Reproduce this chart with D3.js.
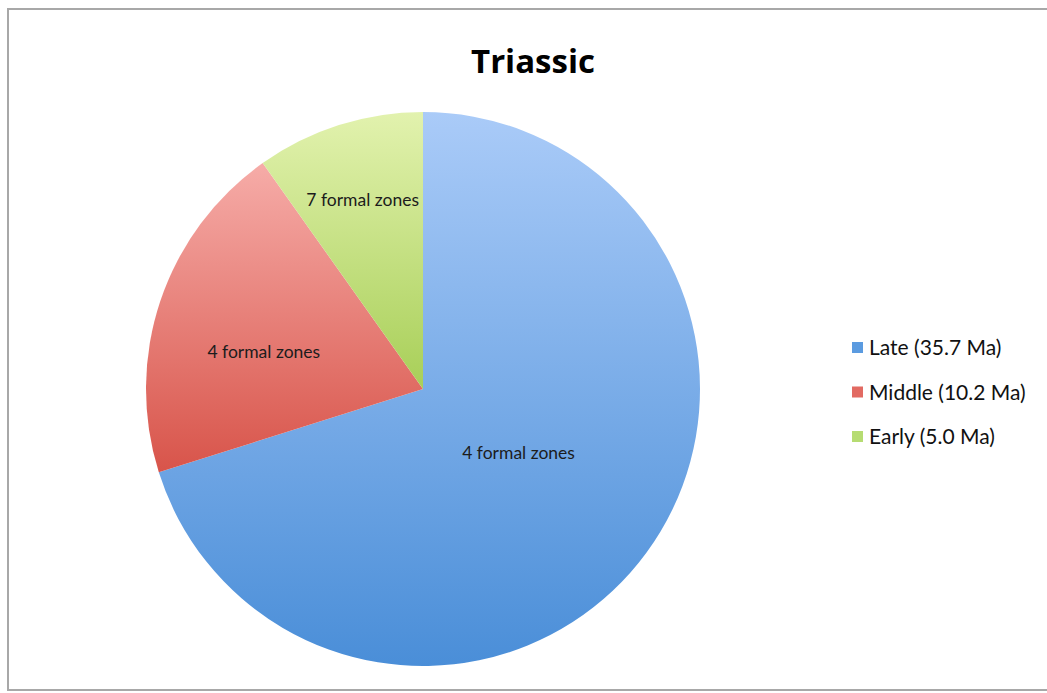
<!DOCTYPE html>
<html>
<head>
<meta charset="utf-8">
<script src="https://cdn.jsdelivr.net/npm/d3@7"></script>
<style>
  html, body { margin: 0; padding: 0; background: #fff; }
  svg { display: block; }
</style>
</head>
<body>
<script>
// Triassic epochs: duration in Ma and the number of formal zones in each
const categories = ["Late", "Middle", "Early"];
const durations = [35.7, 10.2, 5.0];
const legendLabels = ["Late (35.7 Ma)", "Middle (10.2 Ma)", "Early (5.0 Ma)"];
const sliceLabels = ["4 formal zones", "4 formal zones", "7 formal zones"];

const W = 1047, H = 693;
const cx = 423, cy = 389, R = 277;
// label placement: radius as a fraction of R, and a small angular nudge (degrees)
const labelRadius = [0.415, 0.59, 0.717];
const labelAngleShift = [-2.5, -5.5, 0];
const gradStops = [
  ["#aacbf8", "#4a8ed8"],
  ["#f6aca8", "#d8544a"],
  ["#e2f2ae", "#a8cf58"]
];
const legendColors = ["#5b9be0", "#e26a62", "#b6dc72"];

const svg = d3.select("body").append("svg")
  .attr("width", W).attr("height", H);

svg.append("rect").attr("width", W).attr("height", H).attr("fill", "#fff");

// chart frame
svg.append("rect")
  .attr("x", 8).attr("y", 9)
  .attr("width", W + 10).attr("height", 681)
  .attr("fill", "none").attr("stroke", "#a8a8a8").attr("stroke-width", 2);

const defs = svg.append("defs");
gradStops.forEach((g, i) => {
  const lg = defs.append("linearGradient")
    .attr("id", "grad" + i)
    .attr("x1", 0).attr("y1", 0).attr("x2", 0).attr("y2", 1);
  lg.append("stop").attr("offset", "0%").attr("stop-color", g[0]);
  lg.append("stop").attr("offset", "100%").attr("stop-color", g[1]);
});

svg.append("text")
  .attr("x", 533).attr("y", 73)
  .attr("text-anchor", "middle")
  .attr("font-family", "Open Sans, Lato, sans-serif")
  .attr("font-weight", "bold")
  .attr("font-size", 33)
  .attr("fill", "#000")
  .text("Triassic");

const data = categories.map((c, i) => ({ name: c, value: durations[i], label: sliceLabels[i], i }));

const pie = d3.pie().sort(null).value(d => d.value);
const arcs = pie(data);
const arc = d3.arc().innerRadius(0).outerRadius(R);

const g = svg.append("g").attr("transform", `translate(${cx},${cy})`);

g.selectAll("path.slice")
  .data(arcs)
  .join("path")
  .attr("class", "slice")
  .attr("d", arc)
  .attr("fill", d => `url(#grad${d.data.i})`);

g.selectAll("text.lbl")
  .data(arcs)
  .join("text")
  .attr("class", "lbl")
  .attr("transform", d => {
    const r = R * labelRadius[d.data.i];
    const a = (d.startAngle + d.endAngle) / 2 + labelAngleShift[d.data.i] * Math.PI / 180;
    return `translate(${r * Math.sin(a)},${-r * Math.cos(a)})`;
  })
  .attr("text-anchor", "middle")
  .attr("dy", "0.35em")
  .attr("font-family", "Lato, Open Sans, sans-serif")
  .attr("font-size", 17.5)
  .attr("fill", "#1c1c1c")
  .text(d => d.data.label);

const legend = svg.append("g").attr("transform", "translate(852,348)");
const rows = legend.selectAll("g")
  .data(legendLabels)
  .join("g")
  .attr("transform", (d, i) => `translate(0,${i * 44.5})`);
rows.append("rect")
  .attr("x", 0).attr("y", -6).attr("width", 11).attr("height", 11)
  .attr("fill", (d, i) => legendColors[i]);
rows.append("text")
  .attr("x", 17).attr("dy", "0.35em")
  .attr("font-family", "Lato, Open Sans, sans-serif")
  .attr("font-size", 21)
  .attr("fill", "#111")
  .text(d => d);
</script>
</body>
</html>
